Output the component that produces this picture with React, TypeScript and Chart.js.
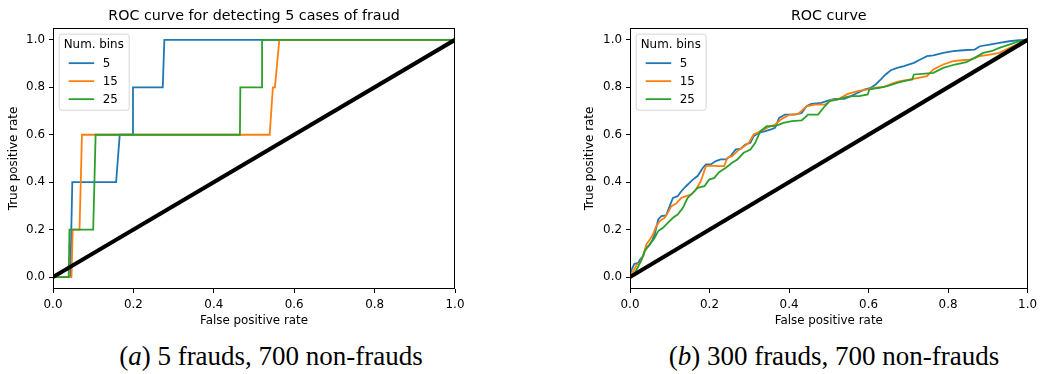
import React, { useEffect, useRef } from "react";
import { Chart, registerables } from "chart.js";

Chart.register(...registerables);

// ---------- shared ----------
const seriesLabels = ["5", "15", "25"];
const seriesColors = ["#1f77b4", "#ff7f0e", "#2ca02c"];
const tickValues = [0, 0.2, 0.4, 0.6, 0.8, 1.0];
const legendTitle = "Num. bins";
const xAxisTitle = "False positive rate";
const yAxisTitle = "True positive rate";
const diagFpr = [0, 1];
const diagTpr = [0, 1];

// ---------- (a) 5 frauds ----------
const titleA = "ROC curve for detecting 5 cases of fraud";
const captionA = ["a", " 5 frauds, 700 non-frauds"];
const aFpr5 = [0, 0.043, 0.048, 0.157, 0.166, 0.199, 0.199, 0.273, 0.277, 1];
const aTpr5 = [0, 0, 0.4, 0.4, 0.6, 0.6, 0.8, 0.8, 1, 1];
const aFpr15 = [0, 0.046, 0.049, 0.066, 0.072, 0.539, 0.547, 0.552, 0.563, 1];
const aTpr15 = [0, 0, 0.2, 0.2, 0.6, 0.6, 0.8, 0.8, 1, 1];
const aFpr25 = [0, 0.039, 0.041, 0.1, 0.106, 0.465, 0.466, 0.52, 0.52, 1];
const aTpr25 = [0, 0, 0.2, 0.2, 0.6, 0.6, 0.8, 0.8, 1, 1];

// ---------- (b) 300 frauds ----------
const titleB = "ROC curve";
const captionB = ["b", " 300 frauds, 700 non-frauds"];
const bFpr5 = [0, 0.004, 0.011, 0.021, 0.025, 0.033, 0.04, 0.048, 0.056, 0.062, 0.071, 0.079, 0.091, 0.1, 0.108, 0.12, 0.129, 0.141, 0.158, 0.17, 0.183, 0.191, 0.203, 0.216, 0.228, 0.241, 0.253, 0.266, 0.278, 0.29, 0.303, 0.311, 0.324, 0.34, 0.353, 0.365, 0.375, 0.39, 0.415, 0.432, 0.444, 0.456, 0.481, 0.498, 0.515, 0.539, 0.556, 0.573, 0.589, 0.606, 0.618, 0.631, 0.643, 0.656, 0.672, 0.689, 0.714, 0.734, 0.747, 0.763, 0.788, 0.813, 0.838, 0.867, 0.88, 0.905, 0.929, 0.954, 0.979, 1];
const bTpr5 = [0, 0.032, 0.056, 0.06, 0.074, 0.088, 0.124, 0.133, 0.156, 0.18, 0.243, 0.257, 0.26, 0.3, 0.334, 0.341, 0.362, 0.383, 0.411, 0.426, 0.46, 0.475, 0.475, 0.489, 0.496, 0.496, 0.51, 0.538, 0.54, 0.559, 0.566, 0.594, 0.608, 0.615, 0.622, 0.629, 0.671, 0.685, 0.685, 0.692, 0.72, 0.73, 0.734, 0.744, 0.751, 0.751, 0.763, 0.777, 0.79, 0.798, 0.812, 0.833, 0.854, 0.872, 0.882, 0.889, 0.903, 0.92, 0.931, 0.934, 0.945, 0.952, 0.956, 0.959, 0.973, 0.98, 0.987, 0.994, 0.999, 1];
const bFpr15 = [0, 0.008, 0.017, 0.025, 0.033, 0.041, 0.05, 0.058, 0.066, 0.075, 0.087, 0.095, 0.104, 0.116, 0.129, 0.141, 0.154, 0.166, 0.178, 0.191, 0.203, 0.224, 0.237, 0.245, 0.257, 0.27, 0.282, 0.299, 0.311, 0.328, 0.344, 0.365, 0.382, 0.402, 0.423, 0.444, 0.465, 0.49, 0.506, 0.523, 0.548, 0.573, 0.598, 0.618, 0.639, 0.664, 0.68, 0.705, 0.726, 0.747, 0.763, 0.788, 0.813, 0.834, 0.855, 0.88, 0.905, 0.929, 0.963, 1];
const bTpr15 = [0, 0.025, 0.053, 0.06, 0.088, 0.138, 0.159, 0.18, 0.215, 0.236, 0.25, 0.271, 0.299, 0.31, 0.334, 0.341, 0.348, 0.369, 0.404, 0.468, 0.47, 0.468, 0.468, 0.503, 0.51, 0.531, 0.545, 0.566, 0.601, 0.615, 0.629, 0.643, 0.667, 0.685, 0.688, 0.72, 0.727, 0.727, 0.746, 0.749, 0.772, 0.784, 0.791, 0.798, 0.802, 0.819, 0.826, 0.833, 0.84, 0.847, 0.875, 0.896, 0.91, 0.914, 0.917, 0.931, 0.938, 0.945, 0.973, 1];
const bFpr25 = [0, 0.012, 0.021, 0.029, 0.037, 0.05, 0.062, 0.071, 0.083, 0.095, 0.108, 0.12, 0.133, 0.145, 0.158, 0.17, 0.187, 0.199, 0.212, 0.224, 0.241, 0.257, 0.27, 0.286, 0.303, 0.315, 0.328, 0.344, 0.365, 0.386, 0.407, 0.432, 0.448, 0.473, 0.49, 0.502, 0.523, 0.539, 0.556, 0.577, 0.598, 0.602, 0.627, 0.647, 0.672, 0.689, 0.71, 0.714, 0.743, 0.763, 0.788, 0.817, 0.846, 0.867, 0.888, 0.909, 0.929, 0.954, 0.979, 1];
const bTpr25 = [0, 0.018, 0.046, 0.074, 0.11, 0.138, 0.166, 0.194, 0.208, 0.229, 0.25, 0.264, 0.292, 0.334, 0.355, 0.376, 0.383, 0.411, 0.418, 0.442, 0.461, 0.482, 0.496, 0.524, 0.538, 0.566, 0.615, 0.636, 0.636, 0.65, 0.657, 0.661, 0.685, 0.685, 0.72, 0.742, 0.749, 0.756, 0.763, 0.763, 0.77, 0.791, 0.798, 0.805, 0.819, 0.826, 0.833, 0.854, 0.858, 0.861, 0.882, 0.896, 0.906, 0.924, 0.945, 0.952, 0.966, 0.98, 0.994, 1];

const FONT = "'DejaVu Sans', sans-serif";
const SMALL = 11.9;
const LARGE = 14.3;

function pts(xs: number[], ys: number[]) {
  return xs.map((x, i) => ({ x, y: ys[i] }));
}

const framePlugin = {
  id: "frame",
  afterDatasetsDraw(chart: any) {
    const { ctx, chartArea: a } = chart;
    ctx.save();
    ctx.strokeStyle = "#000";
    ctx.lineWidth = 1;
    const l = Math.round(a.left) + 0.5;
    const t = Math.round(a.top) + 0.5;
    const r = Math.round(a.right) - 0.5;
    const b = Math.round(a.bottom) - 0.5;
    ctx.strokeRect(l, t, r - l, b - t);
    ctx.restore();
  },
};

const boxLegendPlugin = {
  id: "boxLegend",
  afterDraw(chart: any) {
    const { ctx, chartArea: a } = chart;
    const x = a.left + 5.7;
    const y = a.top + 5.7;
    const w = 70;
    const h = 76;
    ctx.save();
    ctx.beginPath();
    ctx.roundRect(x + 0.5, y + 0.5, w, h, 2.5);
    ctx.fillStyle = "rgba(255,255,255,0.8)";
    ctx.fill();
    ctx.strokeStyle = "rgba(204,204,204,0.8)";
    ctx.lineWidth = 1;
    ctx.stroke();
    ctx.font = `${SMALL}px ${FONT}`;
    ctx.fillStyle = "#000";
    ctx.textBaseline = "middle";
    ctx.textAlign = "left";
    ctx.fillText(legendTitle, x + 5, y + 11.5);
    const items = chart.data.datasets.filter((d: any) => d.showInBox);
    items.forEach((d: any, i: number) => {
      const yy = y + 29.5 + i * 18;
      ctx.strokeStyle = d.borderColor;
      ctx.lineWidth = 1.8;
      ctx.beginPath();
      ctx.moveTo(x + 10, yy);
      ctx.lineTo(x + 35.5, yy);
      ctx.stroke();
      ctx.fillText(d.label, x + 44, yy + 0.5);
    });
    ctx.restore();
  },
};

interface Cfg {
  title: string;
  series: { x: number[]; y: number[] }[];
  yAxisWidth: number;
  yTitlePad: number;
  padRight: number;
}

function buildChart(canvas: HTMLCanvasElement, cfg: Cfg) {
  const datasets: any[] = [
    {
      label: "diagonal",
      data: pts(diagFpr, diagTpr),
      borderColor: "#000",
      borderWidth: 4,
      pointRadius: 0,
      order: 0,
      showInBox: false,
    },
  ];
  cfg.series.forEach((s, i) => {
    datasets.push({
      label: seriesLabels[i],
      data: pts(s.x, s.y),
      borderColor: seriesColors[i],
      backgroundColor: seriesColors[i],
      borderWidth: 1.8,
      pointRadius: 0,
      order: 3 - i,
      showInBox: true,
    });
  });

  const tickFont = { family: FONT, size: SMALL };
  const grid = {
    display: true,
    drawOnChartArea: false,
    drawTicks: true,
    tickLength: 4,
    color: "#000",
    lineWidth: 1,
  };
  const setTicks = (axis: any) => {
    axis.ticks = tickValues.map((v) => ({ value: v }));
  };

  return new Chart(canvas, {
    type: "line",
    data: { datasets },
    plugins: [framePlugin, boxLegendPlugin],
    options: {
      animation: false,
      responsive: false,
      maintainAspectRatio: false,
      layout: { padding: { left: 0, right: cfg.padRight, top: 0, bottom: 0 } },
      elements: { line: { tension: 0 } },
      plugins: {
        legend: { display: false },
        tooltip: { enabled: false },
        title: {
          display: true,
          text: cfg.title,
          fullSize: false,
          color: "#000",
          font: { family: FONT, size: LARGE, weight: "normal" },
          padding: { top: 7.6, bottom: 3.2 },
        },
      },
      scales: {
        x: {
          type: "linear",
          min: 0,
          max: 1,
          afterBuildTicks: setTicks,
          afterFit: (axis: any) => {
            axis.height = 41;
          },
          grid,
          border: { display: false },
          ticks: {
            color: "#000",
            font: tickFont,
            padding: 5,
            maxRotation: 0,
            callback: (v: any) => Number(v).toFixed(1),
          },
          title: {
            display: true,
            text: xAxisTitle,
            color: "#000",
            font: tickFont,
            padding: { top: 0, bottom: 2.2 },
          },
        },
        y: {
          type: "linear",
          min: -0.05,
          max: 1.05,
          afterBuildTicks: setTicks,
          afterFit: (axis: any) => {
            axis.width = cfg.yAxisWidth;
          },
          grid,
          border: { display: false },
          ticks: {
            color: "#000",
            font: tickFont,
            padding: 4,
            callback: (v: any) => Number(v).toFixed(1),
          },
          title: {
            display: true,
            text: yAxisTitle,
            color: "#000",
            font: tickFont,
            padding: { top: cfg.yTitlePad, bottom: 0 },
          },
        },
      },
    } as any,
  });
}

function RocChart(props: { cfg: Cfg; left: number; width: number }) {
  const ref = useRef<HTMLCanvasElement | null>(null);
  useEffect(() => {
    if (!ref.current) return;
    const c = buildChart(ref.current, props.cfg);
    return () => c.destroy();
  }, []);
  return (
    <canvas
      ref={ref}
      width={props.width}
      height={330}
      style={{
        position: "absolute",
        left: props.left,
        top: 0,
        width: props.width,
        height: 330,
      }}
    />
  );
}

function Caption(props: { parts: string[]; center: number }) {
  return (
    <div
      style={{
        position: "absolute",
        left: props.center - 250,
        width: 500,
        top: 339,
        height: 34,
        lineHeight: "34px",
        textAlign: "center",
        fontFamily: "'Liberation Serif', serif",
        fontSize: 27,
        color: "#000",
        whiteSpace: "nowrap",
      }}
    >
      (<i>{props.parts[0]}</i>){props.parts[1]}
    </div>
  );
}

const cfgA: Cfg = {
  title: titleA,
  series: [
    { x: aFpr5, y: aTpr5 },
    { x: aFpr15, y: aTpr15 },
    { x: aFpr25, y: aTpr25 },
  ],
  yAxisWidth: 53,
  yTitlePad: 6.9,
  padRight: 15,
};

const cfgB: Cfg = {
  title: titleB,
  series: [
    { x: bFpr5, y: bTpr5 },
    { x: bFpr15, y: bTpr15 },
    { x: bFpr25, y: bTpr25 },
  ],
  yAxisWidth: 60,
  yTitlePad: 12.9,
  padRight: 10.3,
};

export default function App() {
  return (
    <div
      style={{
        position: "absolute",
        left: 0,
        top: 0,
        width: 1042,
        height: 374,
        background: "#fff",
        overflow: "hidden",
      }}
    >
      <RocChart cfg={cfgA} left={0} width={470} />
      <RocChart cfg={cfgB} left={570} width={472} />
      <Caption parts={captionA} center={271} />
      <Caption parts={captionB} center={834} />
    </div>
  );
}
